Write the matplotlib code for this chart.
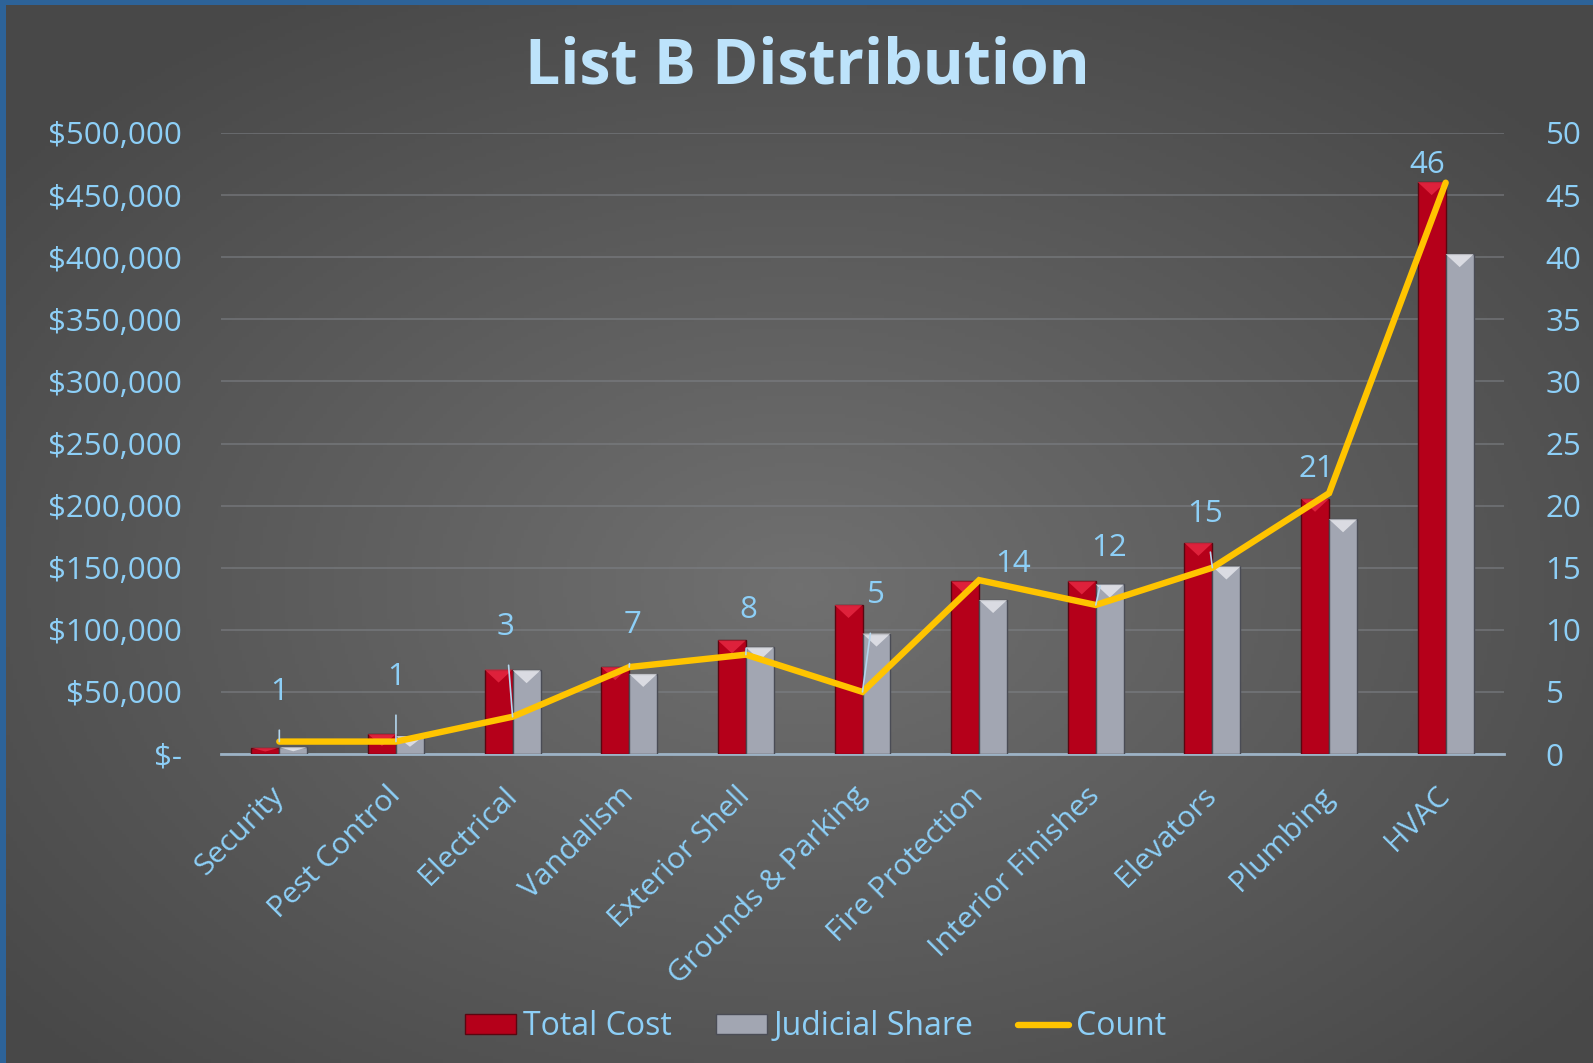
import numpy as np
import matplotlib.pyplot as plt
from matplotlib.patches import Patch
from matplotlib.lines import Line2D
from matplotlib.ticker import FuncFormatter, MultipleLocator

# ---------------- dados ----------------
categorias = ["Security", "Pest Control", "Electrical", "Vandalism", "Exterior Shell",
              "Grounds & Parking", "Fire Protection", "Interior Finishes", "Elevators",
              "Plumbing", "HVAC"]
total_cost = [5000, 16000, 68000, 70000, 91500, 120000, 139000, 139000, 170000, 205500, 460500]
judicial_share = [5500, 14500, 67500, 64500, 86000, 97000, 124000, 136500, 151000, 189000, 402500]
count = [1, 1, 3, 7, 8, 5, 14, 12, 15, 21, 46]

# deslocamento dos rótulos (pixels) relativo ao ponto da linha
label_offsets = [(0, 50), (0, 65), (-7, 90), (3, 42), (2, 45), (13, 97),
                 (34, 16), (13, 57), (-7, 54), (-13, 24), (-18, 18)]

TXT = "#8DCFF7"
TITLE_C = "#BDE3FB"
RED = "#B5001A"
RED_TOP = "#F0304A"
GRAY = "#A2A6B2"
GRAY_TOP = "#F2F3F7"
GOLD = "#FFC400"
FS = 22.5

plt.rcParams["font.family"] = ["Open Sans", "DejaVu Sans"]

W, H = 1593, 1063
fig = plt.figure(figsize=(W / 100, H / 100), dpi=100)
fig.patch.set_facecolor("#2D6399")

# fundo com gradiente radial
bg = fig.add_axes([6 / W, 0, 1 - 6 / W, 1 - 5 / H])
yy, xx = np.mgrid[0:1:300j, 0:1:450j]
r = np.sqrt(((xx - 0.5) / 0.75) ** 2 + ((yy - 0.45) / 0.75) ** 2)
r = np.clip(r / 0.85, 0, 1)
c_in, c_out = np.array([0.44, 0.44, 0.44]), np.array([0.285, 0.285, 0.285])
img = c_in[None, None, :] * (1 - r[..., None]) + c_out[None, None, :] * r[..., None]
bg.imshow(img, aspect="auto", extent=[0, 1, 0, 1], origin="lower")
bg.set_axis_off()

ax = fig.add_axes([221 / W, 1 - 754 / H, (1504 - 221) / W, (754 - 133) / H])
ax.set_facecolor("none")
ax2 = ax.twinx()

x = np.arange(len(categorias))
bw = 0.24

def barras(ax, xs, vals, cor, cor_topo, borda):
    bars = ax.bar(xs, vals, width=bw, color=cor, edgecolor=borda, linewidth=1.0, zorder=3)
    for b in bars:
        x0, w, h = b.get_x(), b.get_width(), b.get_height()
        d = min(h * 0.6, 10500)
        ax.fill([x0, x0 + w, x0 + w / 2], [h, h, h - d], color=cor_topo, alpha=0.7,
                lw=0, zorder=4)
    return bars

barras(ax, x - bw / 2, total_cost, RED, RED_TOP, "#5A0610")
barras(ax, x + bw / 2, judicial_share, GRAY, GRAY_TOP, "#4A4C55")

ax.set_xlim(-0.5, len(categorias) - 0.5)
ax.set_ylim(0, 500000)
ax.yaxis.set_major_locator(MultipleLocator(50000))
ax.yaxis.set_major_formatter(FuncFormatter(lambda v, p: "$-" if v == 0 else f"${v:,.0f}"))
ax.grid(axis="y", color="#7E8186", linewidth=1.3, alpha=0.6, zorder=0)
ax.set_axisbelow(True)

ax.set_xticks(x)
ax.set_xticklabels(categorias, rotation=45, ha="right", va="center",
                   rotation_mode="anchor")
ax.tick_params(axis="x", length=0, pad=27, labelsize=21.8, labelcolor=TXT)
ax.tick_params(axis="y", length=0, pad=28, labelsize=FS, labelcolor=TXT)

for s in ["top", "left", "right"]:
    ax.spines[s].set_visible(False)
    ax2.spines[s].set_visible(False)
ax.spines["bottom"].set_color("#9DB3C6")
ax.spines["bottom"].set_linewidth(2)
ax2.spines["bottom"].set_visible(False)

# linha de contagem
ax2.plot(x, count, color=GOLD, lw=4.6, solid_capstyle="round", solid_joinstyle="miter",
         zorder=5)
ax2.set_ylim(0, 50)
ax2.yaxis.set_major_locator(MultipleLocator(5))
ax2.tick_params(axis="y", length=0, pad=30, labelsize=FS, labelcolor=TXT)

for xi, ci, (dx, dy) in zip(x, count, label_offsets):
    arrow = None
    if dy > 35:
        arrow = dict(arrowstyle="-", color="#B4D6EE", lw=1.2, shrinkA=15, shrinkB=0)
    ax2.annotate(str(ci), (xi, ci), xytext=(dx, dy), textcoords="offset pixels",
                 ha="center", va="center", fontsize=FS, color=TXT,
                 arrowprops=arrow, zorder=6)

fig.text(0.507, 0.937, "List B Distribution", ha="center", va="center",
         fontsize=45, fontweight="bold", color=TITLE_C)

handles = [Patch(facecolor=RED, edgecolor="#5A0610"),
           Patch(facecolor=GRAY, edgecolor="#4A4C55"),
           Line2D([0], [0], color=GOLD, lw=4.6, solid_capstyle="round")]
leg = fig.legend(handles, ["Total Cost", "Judicial Share", "Count"], loc="center",
                 bbox_to_anchor=(0.512, 0.034), ncol=3, frameon=False, fontsize=FS + 0.5,
                 handlelength=1.6, handleheight=0.6, handletextpad=0.2,
                 columnspacing=1.4, labelcolor=TXT)

fig.savefig("out.png", dpi=100, facecolor=fig.get_facecolor())
